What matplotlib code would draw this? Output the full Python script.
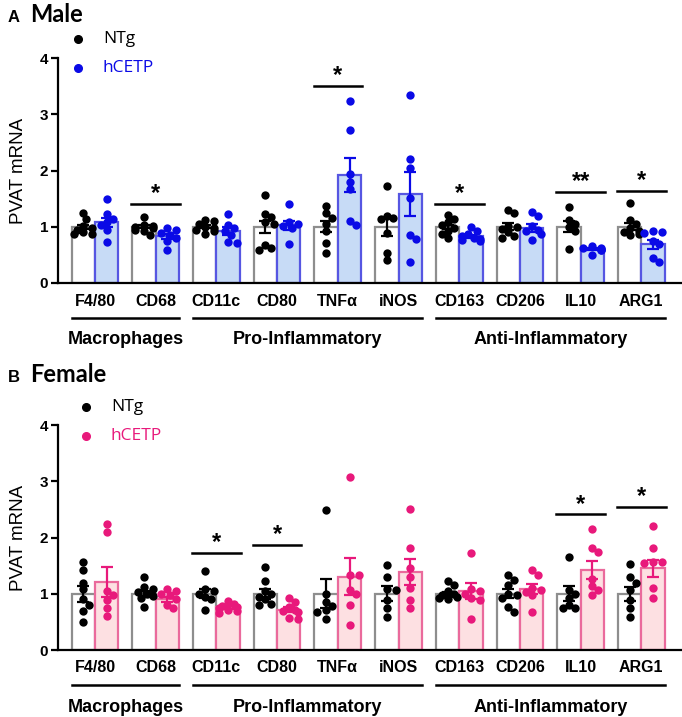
import numpy as np
import matplotlib
matplotlib.use("Agg")
import matplotlib.pyplot as plt

# categories / groups
genes = ["F4/80", "CD68", "CD11c", "CD80", "TNFα", "iNOS", "CD163", "CD206", "IL10", "ARG1"]
groups = [("Macrophages", 0, 1), ("Pro-Inflammatory", 2, 5), ("Anti-Inflammatory", 6, 9)]

# ---- male values ----
male_ntg = [
    [1.24, 1.13, 1.02, 0.98, 0.95, 0.90, 0.87, 0.87],
    [1.17, 1.04, 1.02, 1.00, 0.98, 0.95, 0.92, 0.86],
    [1.12, 1.10, 1.05, 1.00, 0.98, 0.95, 0.92, 0.88],
    [1.56, 1.23, 1.18, 1.08, 1.05, 0.68, 0.62, 0.58],
    [1.37, 1.25, 1.15, 1.05, 0.93, 0.72, 0.53],
    [1.72, 1.20, 1.15, 1.13, 0.89, 0.53, 0.41],
    [1.21, 1.13, 1.08, 1.03, 0.98, 0.93, 0.88, 0.80],
    [1.29, 1.24, 1.02, 1.00, 0.96, 0.90, 0.83, 0.80],
    [1.35, 1.12, 1.05, 1.00, 0.92, 0.60],
    [1.43, 1.12, 1.05, 0.97, 0.93, 0.90, 0.87, 0.85],
]
male_tg = [
    [1.50, 1.22, 1.13, 1.08, 1.03, 0.95, 0.73],
    [0.97, 0.95, 0.89, 0.85, 0.80, 0.74, 0.58],
    [1.22, 1.04, 0.98, 0.93, 0.86, 0.73, 0.72],
    [1.40, 1.08, 1.05, 1.02, 0.97, 0.70],
    [3.24, 2.72, 1.94, 1.80, 1.67, 1.11, 1.04],
    [3.34, 2.21, 2.05, 1.51, 0.86, 0.79, 0.38],
    [1.00, 0.92, 0.88, 0.83, 0.80, 0.78, 0.76, 0.74],
    [1.26, 1.20, 1.02, 0.95, 0.92, 0.88, 0.76],
    [0.65, 0.63, 0.62, 0.60, 0.59, 0.58, 0.50],
    [0.93, 0.91, 0.89, 0.75, 0.69, 0.44, 0.38],
]
male_ntg_mean = [1.0, 1.0, 1.0, 1.0, 1.0, 1.0, 1.0, 1.0, 1.0, 1.0]
male_ntg_sem = [0.04, 0.03, 0.03, 0.11, 0.10, 0.16, 0.04, 0.06, 0.10, 0.06]
male_tg_mean = [1.08, 0.83, 0.92, 1.03, 1.92, 1.59, 0.83, 0.98, 0.60, 0.69]
male_tg_sem = [0.08, 0.05, 0.07, 0.08, 0.30, 0.39, 0.03, 0.07, 0.02, 0.08]
male_sig = {1: ("*", 1.40), 4: ("*", 3.51), 6: ("*", 1.40), 8: ("**", 1.62), 9: ("*", 1.63)}

# ---- female values ----
female_ntg = [
    [1.57, 1.42, 1.20, 1.08, 0.90, 0.80, 0.70, 0.50],
    [1.30, 1.12, 1.08, 1.03, 1.00, 0.96, 0.92, 0.77],
    [1.40, 1.08, 1.05, 1.00, 0.95, 0.90, 0.71],
    [1.48, 1.22, 1.05, 1.00, 0.95, 0.90, 0.82, 0.80],
    [2.49, 1.00, 0.85, 0.78, 0.72, 0.68, 0.56],
    [1.51, 1.29, 1.08, 1.06, 0.89, 0.74, 0.59],
    [1.23, 1.15, 1.05, 1.00, 0.97, 0.95, 0.93, 0.90],
    [1.33, 1.24, 1.16, 1.00, 0.98, 0.92, 0.77, 0.67],
    [1.65, 1.07, 1.00, 0.92, 0.80, 0.74, 0.74],
    [1.53, 1.29, 1.20, 1.07, 0.89, 0.74, 0.59],
]
female_tg = [
    [2.24, 2.09, 1.05, 0.97, 0.89, 0.74, 0.60],
    [1.08, 1.05, 1.00, 0.97, 0.90, 0.80, 0.75],
    [0.88, 0.82, 0.78, 0.76, 0.75, 0.72, 0.70, 0.66],
    [0.92, 0.85, 0.77, 0.72, 0.70, 0.68, 0.57, 0.56],
    [3.07, 1.33, 1.33, 1.07, 1.00, 0.80, 0.44],
    [2.50, 1.81, 1.45, 1.30, 1.11, 0.89, 0.74],
    [1.72, 1.08, 1.05, 1.00, 0.93, 0.89, 0.56],
    [1.42, 1.33, 1.11, 1.07, 1.03, 0.98, 0.67],
    [2.15, 1.81, 1.75, 1.27, 1.13, 1.07, 0.98],
    [2.21, 1.81, 1.57, 1.57, 1.54, 1.10, 0.93],
]
female_ntg_mean = [1.0, 1.0, 1.0, 1.0, 1.0, 1.0, 1.0, 1.0, 1.0, 1.0]
female_ntg_sem = [0.14, 0.05, 0.08, 0.09, 0.26, 0.13, 0.04, 0.08, 0.13, 0.12]
female_tg_mean = [1.21, 0.90, 0.76, 0.72, 1.30, 1.39, 1.05, 1.08, 1.42, 1.45]
female_tg_sem = [0.26, 0.05, 0.03, 0.05, 0.33, 0.23, 0.15, 0.09, 0.16, 0.15]
female_sig = {2: ("*", 1.72), 3: ("*", 1.87), 8: ("*", 2.41), 9: ("*", 2.55)}

W, H = 682, 717
BW = 0.385        # bar width (in category units)
XPX, YPX = 60.7, 56.3   # pixels per unit, for the swarm


def swarm(vals, center):
    # simple beeswarm: put each point as close to the center as it fits
    placed = []
    xs = []
    d2 = 6.5 ** 2
    for v in vals:
        dx = 0.0
        for k in range(0, 8):
            found = False
            for sgn in ([0] if k == 0 else [1, -1]):
                dx = sgn * k * 3.0
                if all((dx - px) ** 2 + ((v - py) * YPX) ** 2 >= d2 for (px, py) in placed):
                    found = True
                    break
            if found:
                break
        dx = max(min(dx, 9), -9)
        placed.append((dx, v))
        xs.append(center + dx / XPX)
    return xs


def panel(ax, ntg, tg, nm, ns, tm, ts, sig, pt_col, fill_col, edge_col):
    x = np.arange(len(genes))
    ax.bar(x - BW / 2, nm, BW, color="white", edgecolor="#8e8e8e", linewidth=1.6, zorder=2)
    ax.bar(x + BW / 2, tm, BW, color=fill_col, edgecolor=edge_col, linewidth=1.6, zorder=2)
    for i in range(len(genes)):
        ax.scatter(swarm(ntg[i], x[i] - BW / 2), ntg[i], s=36, color="black", zorder=4,
                   linewidths=0)
        ax.scatter(swarm(tg[i], x[i] + BW / 2), tg[i], s=36, color=pt_col, zorder=4,
                   linewidths=0)
    ax.errorbar(x - BW / 2, nm, yerr=ns, fmt="none", ecolor="black", elinewidth=1.6,
                capsize=4, capthick=1.6, zorder=5)
    ax.errorbar(x + BW / 2, tm, yerr=ts, fmt="none", ecolor=pt_col, elinewidth=1.6,
                capsize=4, capthick=1.6, zorder=5)
    for i, (txt, yl) in sig.items():
        ax.plot([x[i] - 0.4, x[i] + 0.4], [yl, yl], color="black", lw=1.8, zorder=5)
        ax.text(x[i], yl - 0.02, txt, ha="center", va="bottom", fontsize=17,
                fontweight="bold", family="Liberation Sans")
    ax.set_xlim(-0.61, 9.67)
    ax.set_ylim(0, 4)
    ax.set_yticks([0, 1, 2, 3, 4])
    ax.set_yticklabels(["0", "1", "2", "3", "4"], fontweight="bold", fontsize=11,
                       family="Liberation Sans")
    ax.tick_params(axis="y", length=5, width=1.6, pad=2)
    ax.set_xticks(x)
    ax.set_xticklabels([])
    ax.tick_params(axis="x", length=0)
    for s in ["top", "right"]:
        ax.spines[s].set_visible(False)
    ax.spines["left"].set_linewidth(1.6)
    ax.spines["bottom"].set_linewidth(1.6)
    ax.set_ylabel("PVAT mRNA", fontsize=13.5, family="Liberation Sans", labelpad=9)

    # category labels and group lines below axis (in pixel offsets)
    trans = ax.get_xaxis_transform()
    h_ax = ax.get_position().height * H
    def yoff(px):
        return -px / h_ax
    for i, g in enumerate(genes):
        ax.text(x[i], yoff(18), g, transform=trans, ha="center", va="center",
                fontsize=11.5, fontweight="bold", family="Liberation Sans",
                clip_on=False)
    for name, a, b in groups:
        ax.plot([x[a] - BW, x[b] + BW], [yoff(35), yoff(35)], transform=trans,
                color="black", lw=1.8, clip_on=False)
        ax.text((x[a] + x[b]) / 2, yoff(57), name, transform=trans, ha="center",
                va="center", fontsize=13, fontweight="bold",
                family="Liberation Sans", clip_on=False)


fig = plt.figure(figsize=(W / 100, H / 100), dpi=100)
ax1 = fig.add_axes([58 / W, 1 - 283 / H, (W - 58) / W, 225 / H])
ax2 = fig.add_axes([58 / W, 1 - 650 / H, (W - 58) / W, 225 / H])

panel(ax1, male_ntg, male_tg, male_ntg_mean, male_ntg_sem, male_tg_mean, male_tg_sem,
      male_sig, "#0a0ae6", "#c7dbf6", "#5656e2")
panel(ax2, female_ntg, female_tg, female_ntg_mean, female_ntg_sem, female_tg_mean,
      female_tg_sem, female_sig, "#e8197b", "#fde0e2", "#ea6a9c")

# panel titles
fig.text(8 / W, 1 - 17 / H, "A", fontsize=12, fontweight="bold", family="Liberation Sans",
         va="center")
fig.text(30 / W, 1 - 15 / H, "Male", fontsize=17, fontweight="bold", family="Lato",
         va="center")
fig.text(8 / W, 1 - 377 / H, "B", fontsize=12, fontweight="bold", family="Liberation Sans",
         va="center")
fig.text(30 / W, 1 - 375 / H, "Female", fontsize=17, fontweight="bold", family="Lato",
         va="center")

# legends
for (mx, my0, col) in [(78, 39, "#0a0ae6"), (86, 407, "#e8197b")]:
    fig.add_artist(plt.Line2D([mx / W], [1 - my0 / H], marker="o", color="black",
                              markersize=5.5, linestyle="none"))
    fig.add_artist(plt.Line2D([mx / W], [1 - (my0 + 29) / H], marker="o", color=col,
                              markersize=5.5, linestyle="none"))
    fig.text((mx + 25) / W, 1 - my0 / H, "NTg", fontsize=12.5, family="Open Sans",
             va="center", color="black")
    fig.text((mx + 25) / W, 1 - (my0 + 29) / H, "hCETP", fontsize=12.5, family="Open Sans",
             va="center", color=col)

fig.savefig("out.png", dpi=100)
